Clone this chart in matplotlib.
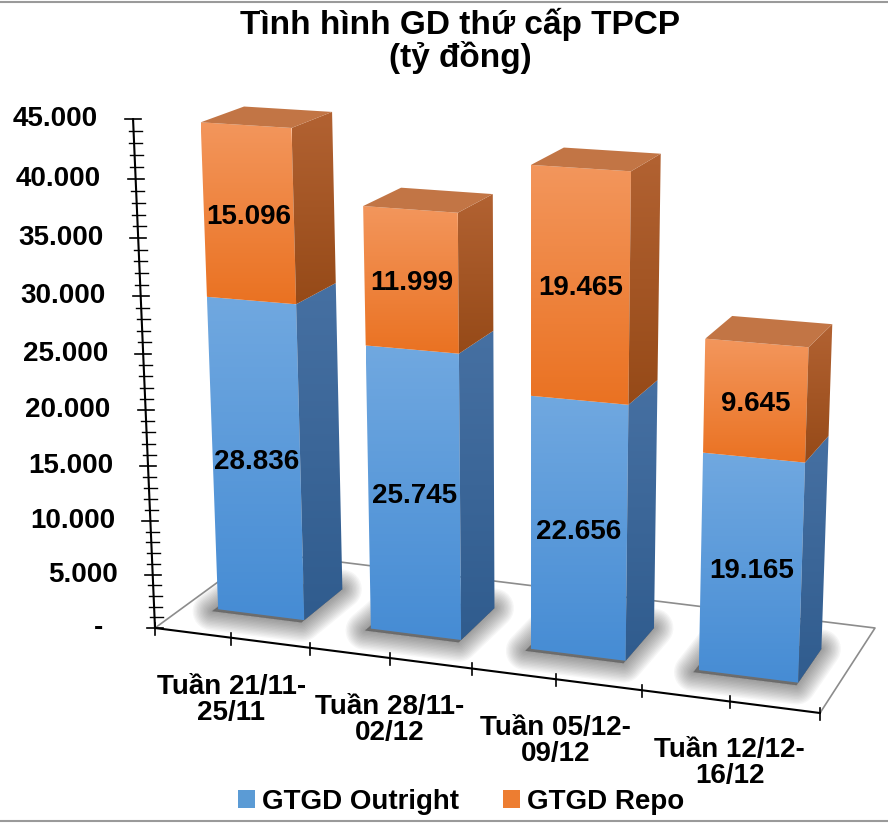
import matplotlib.pyplot as plt
import numpy as np
from matplotlib.patches import Polygon, Patch

plt.rcParams['font.family'] = ['Liberation Sans', 'DejaVu Sans']

# dữ liệu
categories = ['Tuần 21/11-\n25/11', 'Tuần 28/11-\n02/12', 'Tuần 05/12-\n09/12', 'Tuần 12/12-\n16/12']
outright = [28836, 25745, 22656, 19165]
repo = [15096, 11999, 19465, 9645]
series_names = ['GTGD Outright', 'GTGD Repo']
y_max = 45000
y_major = 5000
y_minor = 1000

# phối cảnh giả 3D (toạ độ pixel của hình)
FL = np.array([155.0, 628.0])
FR = np.array([820.0, 713.0])
BR = np.array([875.0, 628.0])
BL = np.array([259.0, 552.0])
R = 1.1
A0, A1, Y_REF, B = 0.0104, 1.1e-5, 613.0, 1.65e-8
X_VP, LEAN = 530.0, 0.000115
bar_w = 0.57
w_front, w_back = 0.3, 0.7
n_cat = len(categories)


def floor_pt(u, w):
    t = u / n_cat
    f = t / (t + R * (1 - t))
    front = FL + f * (FR - FL)
    back = BL + f * (BR - BL)
    return front + w * (back - front)


def proj(u, w, v):
    x0, y0 = floor_pt(u, w)
    a = A0 + A1 * (y0 - Y_REF)
    h = a * v + B * v * v
    return (x0 + (x0 - X_VP) * LEAN * h, y0 - h)


def grad_fill(ax, pts, c_top, c_bot, z):
    poly = Polygon(pts, closed=True, facecolor='none', edgecolor='none', zorder=z)
    ax.add_patch(poly)
    xs = [p[0] for p in pts]
    ys = [p[1] for p in pts]
    t = np.linspace(0, 1, 64)[:, None]
    col = (np.array(c_top) * (1 - t) + np.array(c_bot) * t) / 255.0
    im = ax.imshow(col[:, None, :], extent=(min(xs), max(xs), max(ys), min(ys)),
                   origin='upper', aspect='auto', zorder=z, interpolation='bilinear')
    im.set_clip_path(poly)


def fmt(v):
    return '{:,}'.format(v).replace(',', '.')


fig = plt.figure(figsize=(8.88, 8.25), dpi=100)
ax = fig.add_axes([0, 0, 1, 1])
ax.axis('off')

# viền trên / dưới
ax.plot([0, 888], [1.5, 1.5], color='#9a9a9a', lw=1.5, zorder=1)
ax.plot([0, 888], [821, 821], color='#9a9a9a', lw=1.5, zorder=1)

# sàn
ax.plot([FL[0], BL[0], BR[0], FR[0]], [FL[1], BL[1], BR[1], FR[1]], color='#8c8c8c', lw=1.2, zorder=1)
ax.plot([FL[0], FR[0]], [FL[1], FR[1]], color='black', lw=1.5, zorder=1)
for u in np.arange(0, n_cat + 0.01, 0.5):
    x, y = floor_pt(u, 0)
    ax.plot([x, x], [y - 5, y + 7], color='black', lw=1.2, zorder=1)

# trục tung
x0, y0 = proj(0, 0, 0)
x1, y1 = proj(0, 0, y_max)
ax.plot([x0, x1], [y0, y1], color='black', lw=1.5, zorder=1)
for v in range(0, y_max + 1, y_minor):
    x, y = proj(0, 0, v)
    if v % y_major == 0:
        ax.plot([x - 8, x + 8], [y, y], color='black', lw=1.2, zorder=1)
        if v == 0:
            ax.text(x - 52, y, '-', ha='right', va='center', fontsize=20, fontweight='bold')
        else:
            ax.text(x - 35, y, fmt(v), ha='right', va='center', fontsize=20, fontweight='bold')
    else:
        ax.plot([x - 5, x + 8], [y, y], color='black', lw=1.0, zorder=1)

# màu
blue_front = ((112, 168, 224), (70, 140, 212))
blue_side = ((70, 112, 162), (48, 92, 142))
orange_front = ((243, 150, 92), (234, 114, 34))
orange_side = ((178, 98, 50), (150, 74, 24))
orange_top = '#c27545'

for i in range(n_cat):
    u0 = i + (1 - bar_w) / 2
    u1 = u0 + bar_w
    # bóng đổ mờ
    foot = [proj(u0 - 0.02, w_front - 0.03, 0), proj(u1, w_front - 0.03, 0),
            proj(u1, w_back, 0), proj(u0 - 0.02, w_back, 0)]
    for lw in range(2, 30, 2):
        ax.add_patch(Polygon(foot, closed=True, facecolor='#3a3a3a', edgecolor='#3a3a3a',
                             lw=lw, alpha=0.045, joinstyle='round', zorder=2))
    segs = [(0, outright[i], blue_front, blue_side),
            (outright[i], outright[i] + repo[i], orange_front, orange_side)]
    for lo, hi, cf, cs in segs:
        front = [proj(u0, w_front, lo), proj(u1, w_front, lo), proj(u1, w_front, hi), proj(u0, w_front, hi)]
        side = [proj(u1, w_front, lo), proj(u1, w_back, lo), proj(u1, w_back, hi), proj(u1, w_front, hi)]
        grad_fill(ax, front, cf[0], cf[1], 3 + i)
        grad_fill(ax, side, cs[0], cs[1], 3 + i)
        cx = np.mean([p[0] for p in front])
        cy = np.mean([p[1] for p in front])
        ax.text(cx, cy + 4, fmt(hi - lo), ha='center', va='center', fontsize=20,
                fontweight='bold', zorder=20)
    top_v = outright[i] + repo[i]
    top = [proj(u0, w_front, top_v), proj(u1, w_front, top_v), proj(u1, w_back, top_v), proj(u0, w_back, top_v)]
    ax.add_patch(Polygon(top, closed=True, facecolor=orange_top, edgecolor='none', zorder=3 + i))

# nhãn danh mục
for i, lab in enumerate(categories):
    x, y = floor_pt(i + 0.5, 0)
    ax.text(x, y + 62, lab, ha='center', va='center', fontsize=20, fontweight='bold', linespacing=1.0)

# tiêu đề
ax.text(460, 24, 'Tình hình GD thứ cấp TPCP', ha='center', va='center', fontsize=24, fontweight='bold')
ax.text(460, 58, '(tỷ đồng)', ha='center', va='center', fontsize=24, fontweight='bold')

handles = [Patch(facecolor='#5b9bd5'), Patch(facecolor='#ed7d31')]
ax.legend(handles, series_names, loc='center', bbox_to_anchor=(461 / 888, 1 - 802 / 825), ncol=2,
          frameon=False, prop={'size': 20, 'weight': 'bold'}, handlelength=0.6, handleheight=0.6,
          handletextpad=0.25, columnspacing=1.6)

ax.set_xlim(0, 888)
ax.set_ylim(825, 0)
plt.savefig('out.png', dpi=100)
